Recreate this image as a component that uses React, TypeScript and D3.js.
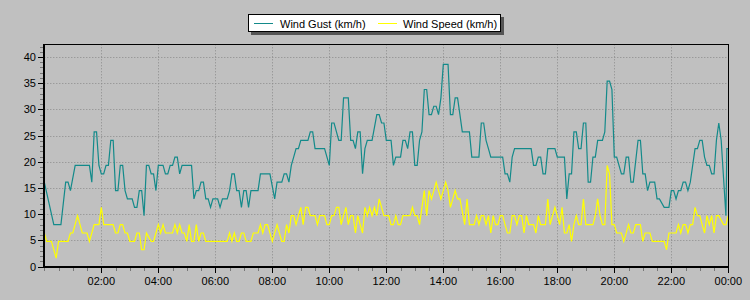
import React from "react";
import * as d3 from "d3";

// [minute of day, km/h]
const gustPoints: [number, number][] = [
  [0, 16.1], [20, 8.0], [35, 8.0], [45, 16.1], [50, 16.1], [55, 14.5], [65, 19.3], [95, 19.3], [100, 16.1],
  [105, 25.7], [110, 25.7], [115, 19.3], [120, 17.7], [125, 17.7], [130, 19.3], [135, 19.3], [140, 24.1],
  [145, 24.1], [150, 14.5], [155, 14.5], [160, 19.3], [165, 19.3], [170, 14.5], [175, 12.9], [185, 12.9],
  [190, 11.3], [195, 11.3], [200, 14.5], [205, 14.5], [210, 9.7], [215, 19.3], [220, 19.3], [225, 17.7],
  [230, 17.7], [235, 14.5], [240, 19.3], [250, 19.3], [255, 17.7], [260, 17.7], [265, 19.3], [270, 19.3],
  [275, 20.9], [280, 20.9], [285, 17.7], [290, 19.3], [310, 19.3], [315, 12.9], [320, 14.5], [325, 14.5],
  [330, 16.1], [335, 16.1], [340, 12.9], [345, 12.9], [350, 11.3], [355, 12.9], [365, 12.9], [370, 11.3],
  [375, 12.9], [385, 12.9], [390, 14.5], [395, 17.7], [400, 17.7], [405, 14.5], [410, 14.5], [415, 11.3],
  [420, 14.5], [425, 14.5], [430, 11.3], [435, 14.5], [450, 14.5], [455, 17.7], [475, 17.7], [485, 12.9],
  [490, 16.1], [500, 16.1], [505, 17.7], [510, 17.7], [515, 16.1], [520, 19.3], [525, 20.9], [530, 22.5],
  [535, 22.5], [540, 24.1], [555, 24.1], [560, 25.7], [565, 25.7], [570, 22.5], [590, 22.5], [600, 19.3],
  [605, 27.4], [610, 27.4], [620, 24.1], [625, 24.1], [630, 32.2], [640, 32.2], [645, 24.1], [650, 24.1],
  [655, 22.5], [660, 25.7], [665, 25.7], [670, 17.7], [675, 22.5], [680, 24.1], [690, 24.1], [700, 29.0],
  [705, 29.0], [710, 27.4], [715, 27.4], [720, 24.1], [730, 24.1], [735, 19.3], [740, 20.9], [750, 20.9],
  [755, 24.1], [760, 24.1], [765, 22.5], [770, 25.7], [775, 25.7], [780, 19.3], [785, 19.3], [790, 24.1],
  [795, 25.7], [800, 33.8], [805, 33.8], [810, 29.0], [815, 29.0], [820, 30.6], [825, 30.6], [830, 29.0],
  [835, 32.2], [840, 38.6], [850, 38.6], [855, 29.0], [860, 29.0], [865, 32.2], [870, 32.2], [875, 29.0],
  [880, 25.7], [895, 25.7], [900, 20.9], [915, 20.9], [920, 27.4], [925, 27.4], [930, 24.1], [935, 22.5],
  [940, 20.9], [965, 20.9], [970, 17.7], [975, 17.7], [980, 16.1], [985, 20.9], [990, 22.5], [1025, 22.5],
  [1030, 19.3], [1035, 19.3], [1040, 20.9], [1045, 20.9], [1050, 17.7], [1055, 17.7], [1060, 22.5],
  [1075, 22.5], [1080, 20.9], [1095, 20.9], [1100, 12.9], [1105, 17.7], [1110, 17.7], [1115, 25.7],
  [1120, 25.7], [1125, 22.5], [1130, 22.5], [1135, 27.4], [1140, 27.4], [1145, 16.1], [1150, 16.1],
  [1155, 20.9], [1160, 20.9], [1165, 24.1], [1175, 24.1], [1180, 25.7], [1185, 35.4], [1190, 35.4],
  [1195, 33.8], [1200, 20.9], [1205, 20.9], [1215, 17.7], [1220, 17.7], [1225, 20.9], [1230, 20.9],
  [1235, 16.1], [1240, 16.1], [1250, 24.1], [1255, 24.1], [1260, 17.7], [1265, 17.7], [1270, 14.5],
  [1275, 16.1], [1285, 16.1], [1290, 12.9], [1295, 12.9], [1305, 11.3], [1315, 11.3], [1320, 14.5],
  [1325, 14.5], [1330, 12.9], [1335, 14.5], [1340, 14.5], [1345, 16.1], [1350, 16.1], [1355, 14.5],
  [1360, 16.1], [1370, 22.5], [1375, 22.5], [1380, 24.1], [1385, 24.1], [1390, 20.9], [1395, 19.3],
  [1400, 19.3], [1405, 17.7], [1410, 17.7], [1415, 24.1], [1420, 27.4], [1425, 24.1], [1435, 9.7],
  [1437, 22.5], [1440, 22.5],
];

const speedPoints: [number, number][] = [
  [0, 6.4], [5, 4.8], [15, 4.8], [25, 1.6], [30, 4.8], [50, 4.8], [55, 6.4], [60, 6.4], [70, 9.7], [80, 6.4],
  [90, 6.4], [95, 4.8], [100, 6.4], [105, 8.0], [115, 8.0], [120, 11.3], [125, 8.0], [145, 8.0], [150, 6.4],
  [155, 6.4], [160, 8.0], [165, 8.0], [170, 6.4], [175, 6.4], [180, 4.8], [190, 4.8], [195, 6.4], [200, 6.4],
  [205, 3.2], [210, 3.2], [215, 6.4], [225, 4.8], [230, 4.8], [235, 6.4], [240, 8.0], [245, 6.4], [250, 8.0],
  [255, 6.4], [270, 6.4], [275, 8.0], [280, 6.4], [285, 8.0], [290, 6.4], [295, 6.4], [300, 4.8], [305, 8.0],
  [310, 4.8], [315, 4.8], [320, 8.0], [325, 4.8], [330, 6.4], [335, 6.4], [340, 4.8], [385, 4.8], [390, 6.4],
  [395, 4.8], [400, 6.4], [405, 4.8], [410, 4.8], [415, 6.4], [420, 6.4], [425, 4.8], [435, 4.8], [440, 6.4],
  [450, 6.4], [455, 8.0], [460, 6.4], [465, 8.0], [470, 8.0], [475, 6.4], [480, 4.8], [485, 6.4], [490, 8.0],
  [495, 6.4], [500, 4.8], [505, 4.8], [510, 8.0], [515, 6.4], [520, 9.7], [525, 9.7], [530, 8.0], [535, 9.7],
  [540, 11.3], [545, 8.0], [550, 11.3], [555, 11.3], [560, 9.7], [570, 9.7], [575, 8.0], [580, 9.7],
  [590, 9.7], [595, 8.0], [600, 8.0], [605, 9.7], [610, 9.7], [615, 11.3], [620, 11.3], [625, 8.0],
  [630, 9.7], [635, 11.3], [640, 8.0], [645, 9.7], [650, 9.7], [655, 6.4], [660, 9.7], [665, 8.0],
  [670, 6.4], [675, 11.3], [680, 9.7], [685, 11.3], [690, 9.7], [695, 11.3], [700, 9.7], [705, 12.9],
  [710, 11.3], [715, 9.7], [725, 9.7], [730, 8.0], [735, 8.0], [740, 9.7], [745, 8.0], [750, 8.0],
  [755, 9.7], [770, 9.7], [775, 11.3], [780, 9.7], [785, 9.7], [790, 8.0], [795, 11.3], [800, 14.5],
  [805, 9.7], [810, 14.5], [815, 12.9], [820, 14.5], [825, 16.1], [830, 14.5], [835, 12.9], [840, 14.5],
  [845, 16.1], [850, 14.5], [855, 11.3], [860, 12.9], [865, 14.5], [870, 12.9], [875, 12.9], [885, 8.0],
  [890, 12.9], [895, 8.0], [905, 8.0], [910, 9.7], [915, 8.0], [920, 9.7], [925, 9.7], [930, 8.0],
  [935, 9.7], [940, 6.4], [945, 9.7], [950, 8.0], [955, 8.0], [960, 9.7], [965, 9.7], [970, 8.0],
  [975, 6.4], [980, 6.4], [985, 9.7], [990, 9.7], [995, 8.0], [1000, 9.7], [1005, 9.7], [1010, 6.4],
  [1015, 9.7], [1020, 8.0], [1030, 8.0], [1035, 6.4], [1040, 9.7], [1045, 8.0], [1055, 8.0], [1060, 12.9],
  [1065, 8.0], [1070, 9.7], [1075, 11.3], [1080, 9.7], [1085, 8.0], [1090, 11.3], [1095, 6.4], [1100, 6.4],
  [1105, 8.0], [1110, 4.8], [1115, 8.0], [1120, 9.7], [1125, 8.0], [1130, 8.0], [1135, 12.9], [1140, 8.0],
  [1155, 8.0], [1160, 9.7], [1165, 12.9], [1170, 9.7], [1175, 8.0], [1180, 8.0], [1185, 19.3], [1190, 17.7],
  [1195, 8.0], [1200, 8.0], [1205, 6.4], [1215, 6.4], [1220, 4.8], [1230, 8.0], [1235, 6.4], [1240, 6.4],
  [1245, 8.0], [1255, 8.0], [1260, 4.8], [1265, 6.4], [1275, 6.4], [1280, 4.8], [1305, 4.8], [1310, 3.2],
  [1315, 6.4], [1330, 6.4], [1335, 8.0], [1340, 6.4], [1345, 8.0], [1350, 8.0], [1355, 6.4], [1360, 8.0],
  [1365, 8.0], [1370, 11.3], [1375, 9.7], [1380, 9.7], [1385, 8.0], [1390, 6.4], [1395, 9.7], [1400, 8.0],
  [1405, 9.7], [1410, 6.4], [1415, 9.7], [1420, 9.7], [1430, 8.0], [1435, 8.0], [1440, 9.7],
];

const seriesNames = ["Wind Gust (km/h)", "Wind Speed (km/h)"];
const seriesColors = ["#138a8a", "#ffff00"];
const yMajorTicks = [0, 5, 10, 15, 20, 25, 30, 35, 40];
const xMajorTicks = [120, 240, 360, 480, 600, 720, 840, 960, 1080, 1200, 1320, 1440];
const xTickLabels = ["02:00", "04:00", "06:00", "08:00", "10:00", "12:00", "14:00", "16:00", "18:00", "20:00", "22:00", "00:00"];

const W = 750, H = 300;
const L = 44.3, R = 728.3, T = 44.3, B = 266.5;
const FONT = "'Liberation Sans', Arial, sans-serif";

export default function App() {
  const x = d3.scaleLinear().domain([0, 1440]).range([L, R]);
  const y = d3.scaleLinear().domain([0, 42.43]).range([B, T]);
  const line = d3.line<[number, number]>().x((d) => x(d[0])).y((d) => y(d[1]));
  const yMinor = d3.range(0, 43, 1);
  const xMinor = d3.range(0, 1441, 30);

  return (
    <div style={{ position: "absolute", left: 0, top: 0, width: W, height: H }}>
      <svg width={W} height={H} style={{ display: "block" }} fontFamily={FONT}>
        <rect x={0} y={0} width={W} height={H} fill="#c0c0c0" />
        {/* gridlines */}
        {yMajorTicks.filter((v) => v > 0).map((v) => (
          <line key={"hg" + v} x1={L} x2={R} y1={Math.round(y(v)) + 0.5} y2={Math.round(y(v)) + 0.5}
            stroke="#8a8a8a" strokeDasharray="1,2" />
        ))}
        {xMajorTicks.filter((t) => t < 1440).map((t) => (
          <line key={"vg" + t} y1={T} y2={B} x1={Math.round(x(t)) + 0.5} x2={Math.round(x(t)) + 0.5}
            stroke="#8a8a8a" strokeDasharray="1,2" />
        ))}
        {/* data */}
        <path d={line(gustPoints) || ""} fill="none" stroke={seriesColors[0]} strokeWidth={1.2} />
        <path d={line(speedPoints) || ""} fill="none" stroke={seriesColors[1]} strokeWidth={1.2} />
        {/* frame */}
        <line x1={L} x2={R} y1={44.5} y2={44.5} stroke="#000" strokeWidth={1} />
        <line x1={728.5} x2={728.5} y1={44} y2={267} stroke="#000" strokeWidth={1} />
        <line x1={44} x2={44} y1={44} y2={268} stroke="#000" strokeWidth={2} />
        <line x1={43} x2={729} y1={267} y2={267} stroke="#000" strokeWidth={2} />
        {/* y ticks */}
        {yMinor.map((v) => (
          <line key={"ym" + v} x1={yMajorTicks.includes(v) ? 38 : 40} x2={43} y1={Math.round(y(v)) + 0.5}
            y2={Math.round(y(v)) + 0.5} stroke={yMajorTicks.includes(v) ? "#000" : "#777"} />
        ))}
        {yMajorTicks.map((v) => (
          <text key={"yl" + v} x={36} y={y(v) + 4} textAnchor="end" fontSize={11} fill="#000">{v}</text>
        ))}
        {/* x ticks */}
        {xMinor.map((t) => (
          <line key={"xm" + t} x1={Math.round(x(t)) + 0.5} x2={Math.round(x(t)) + 0.5} y1={268}
            y2={xMajorTicks.includes(t) ? 273 : 271} stroke={xMajorTicks.includes(t) ? "#000" : "#777"} />
        ))}
        {xMajorTicks.map((t, i) => (
          <text key={"xl" + t} x={x(t)} y={285} textAnchor="middle" fontSize={11} fill="#000">{xTickLabels[i]}</text>
        ))}
        {/* legend */}
        <rect x={251} y={17} width={253} height={18} fill="#555" />
        <rect x={248.5} y={14.5} width={252} height={17} fill="#fff" stroke="#000" />
        <line x1={254} x2={273} y1={23.5} y2={23.5} stroke={seriesColors[0]} strokeWidth={1} />
        <text x={280} y={27.5} fontSize={11} fill="#000">{seriesNames[0]}</text>
        <line x1={378} x2={397} y1={23.5} y2={23.5} stroke={seriesColors[1]} strokeWidth={1} />
        <text x={403} y={27.5} fontSize={11} fill="#000">{seriesNames[1]}</text>
      </svg>
    </div>
  );
}
